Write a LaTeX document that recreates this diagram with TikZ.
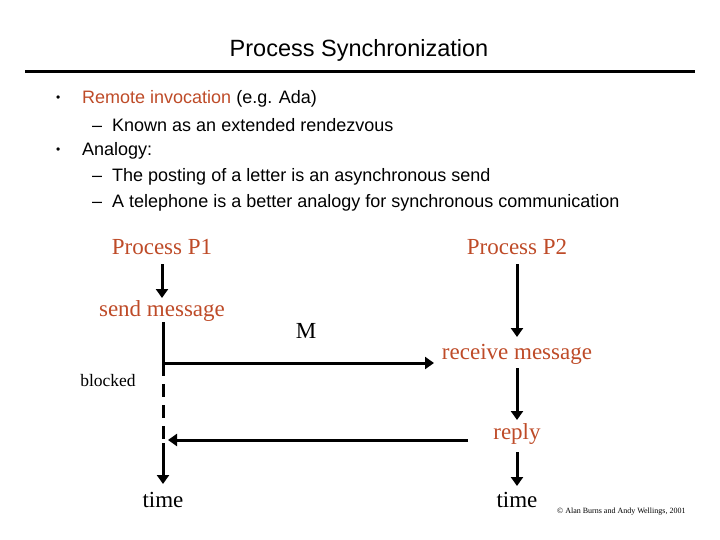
\documentclass[tikz,border=0pt]{standalone}
\usepackage{fontspec}
\setmainfont{Liberation Serif}
\newfontfamily\arialf{Liberation Sans}
\usetikzlibrary{arrows.meta}
\definecolor{rb}{RGB}{190,75,40}
\begin{document}
\begin{tikzpicture}[x=1pt,y=-1pt,
  lbl/.style={font=\fontsize{23}{25}\selectfont,text=rb,inner sep=1pt},
  blk/.style={font=\fontsize{23}{25}\selectfont,inner sep=1pt},
  bul/.style={font=\arialf\fontsize{18}{20}\selectfont,anchor=west,inner sep=0pt},
  arr/.style={line width=3pt,-{Triangle[length=9pt,width=12pt]}}]
\useasboundingbox (0,0) rectangle (720,540);
\node[font=\arialf\fontsize{23.5}{25}\selectfont] (title) at (359,50) {Process Synchronization};
\draw[line width=3pt] (25,72) -- (695,72);
\node[bul,font=\arialf\fontsize{12}{14}\selectfont] (b1) at (56,99) {•};
\node[bul] (t1) at (82,99) {\textcolor{rb}{Remote invocation} (e.g. Ada)};
\node[bul] (t2) at (92,125) {–\ \ Known as an extended rendezvous};
\node[bul,font=\arialf\fontsize{12}{14}\selectfont] (b2) at (56,151) {•};
\node[bul] (t3) at (82,151) {Analogy:};
\node[bul] (t4) at (92,177) {–\ \ The posting of a letter is an asynchronous send};
\node[bul] (t5) at (92,203) {–\ \ A telephone is a better analogy for synchronous communication};
\node[lbl] (p1) at (162,247) {Process P1};
\node[lbl] (p2) at (517,247) {Process P2};
\node[lbl] (send) at (162,311) {send message};
\node[blk] (m) at (306,331) {M};
\node[lbl] (recv) at (517,354) {receive message};
\node[font=\fontsize{17.5}{19}\selectfont,inner sep=1pt] (blocked) at (108,381) {blocked};
\node[lbl] (reply) at (517,434) {reply};
\node[blk] (time1) at (163,500) {time};
\node[blk] (time2) at (517,500) {time};
\node[font=\fontsize{8}{9}\selectfont,anchor=west,inner sep=0pt] (copy) at (557,512) {© Alan Burns and Andy Wellings, 2001};
\coordinate (a) at (163,322);
\coordinate (c) at (163,363);
\coordinate (d) at (163,443);
\coordinate (mend) at (434,363);
\coordinate (rs) at (468,440);
\coordinate (rend) at (168,440);
\draw[arr] (162,264) -- (162,298);
\draw[line width=3pt] (a) -- (c);
\draw[arr] (c) -- (mend);
\draw[line width=3pt,dash pattern=on 13pt off 8pt] (c) -- (d);
\draw[arr] (517,264) -- (517,337);
\draw[arr] (517,368) -- (517,420);
\draw[arr] (rs) -- (rend);
\draw[arr] (d) -- (163,484);
\draw[arr] (517,452) -- (517,486);
\end{tikzpicture}
\end{document}
